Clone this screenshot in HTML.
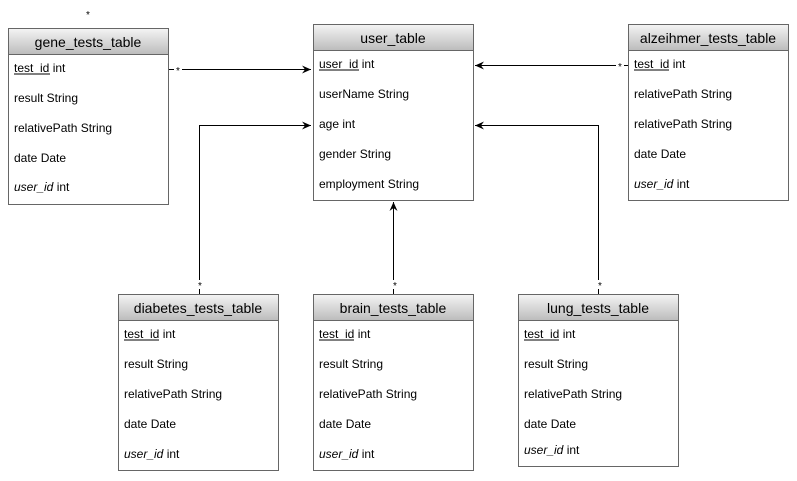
<!DOCTYPE html>
<html><head><meta charset="utf-8"><style>
html,body{margin:0;padding:0;background:#fff;}
svg{display:block;font-family:"Liberation Sans",Arial,sans-serif;}
.t{font-size:14px;fill:#000;text-anchor:middle;}
.r{font-size:12px;fill:#000;}
.i{font-style:italic;}
.s{font-size:10px;fill:#000;}
</style></head><body>
<svg width="797" height="481" viewBox="0 0 797 481" xmlns="http://www.w3.org/2000/svg">
<defs>
<linearGradient id="g" x1="0" y1="0" x2="0" y2="1">
<stop offset="0" stop-color="#f4f4f4"/><stop offset="1" stop-color="#bcbcbc"/>
</linearGradient>
<marker id="a" markerWidth="10" markerHeight="10" refX="9" refY="5" orient="auto" markerUnits="userSpaceOnUse">
<path d="M0,1 L9,5 L0,9 L3,5 Z" fill="#000"/>
</marker>
</defs>
<g stroke="#000" stroke-width="1" fill="none">
<path d="M168.5,69.5 H174 M182,69.5 H311" marker-end="url(#a)"/>
<path d="M199.5,294 V289 M199.5,280 V125.5 H311" marker-end="url(#a)"/>
<path d="M393.5,294 V289 M393.5,280 V202" marker-end="url(#a)"/>
<path d="M598.5,294 V289 M598.5,280 V125.5 H475" marker-end="url(#a)"/>
<path d="M628,65.5 H624 M616,65.5 H475" marker-end="url(#a)"/>
</g>
<text class="s" x="88" y="18" text-anchor="middle">*</text>
<text class="s" x="178" y="74" text-anchor="middle">*</text>
<text class="s" x="620" y="70" text-anchor="middle">*</text>
<text class="s" x="200" y="289" text-anchor="middle">*</text>
<text class="s" x="395" y="289" text-anchor="middle">*</text>
<text class="s" x="600" y="289" text-anchor="middle">*</text>

<g>
<rect x="8.5" y="28.5" width="160" height="176" fill="#fff" stroke="#666"/>
<rect x="8.5" y="28.5" width="160" height="26" fill="url(#g)" stroke="#666"/>
<text class="t" x="88" y="47">gene_tests_table</text>
<text class="r" x="14" y="72">test_id int</text>
<line x1="14" y1="74" x2="50" y2="74" stroke="#000"/>
<text class="r" x="14" y="102">result String</text>
<text class="r" x="14" y="132">relativePath String</text>
<text class="r" x="14" y="162">date Date</text>
<text class="r" x="14" y="191"><tspan class="i">user_id</tspan> int</text>
</g>
<g>
<rect x="313.5" y="24.5" width="160" height="176" fill="#fff" stroke="#666"/>
<rect x="313.5" y="24.5" width="160" height="26" fill="url(#g)" stroke="#666"/>
<text class="t" x="393" y="43">user_table</text>
<text class="r" x="319" y="68">user_id int</text>
<line x1="319" y1="70" x2="359" y2="70" stroke="#000"/>
<text class="r" x="319" y="98">userName String</text>
<text class="r" x="319" y="128">age int</text>
<text class="r" x="319" y="158">gender String</text>
<text class="r" x="319" y="188">employment String</text>
</g>
<g>
<rect x="628.5" y="24.5" width="160" height="176" fill="#fff" stroke="#666"/>
<rect x="628.5" y="24.5" width="160" height="26" fill="url(#g)" stroke="#666"/>
<text class="t" x="708" y="43">alzeihmer_tests_table</text>
<text class="r" x="634" y="68">test_id int</text>
<line x1="634" y1="70" x2="669" y2="70" stroke="#000"/>
<text class="r" x="634" y="98">relativePath String</text>
<text class="r" x="634" y="128">relativePath String</text>
<text class="r" x="634" y="158">date Date</text>
<text class="r" x="634" y="188"><tspan class="i">user_id</tspan> int</text>
</g>
<g>
<rect x="118.5" y="294.5" width="160" height="176" fill="#fff" stroke="#666"/>
<rect x="118.5" y="294.5" width="160" height="26" fill="url(#g)" stroke="#666"/>
<text class="t" x="198" y="313">diabetes_tests_table</text>
<text class="r" x="124" y="338">test_id int</text>
<line x1="124" y1="340" x2="159" y2="340" stroke="#000"/>
<text class="r" x="124" y="368">result String</text>
<text class="r" x="124" y="398">relativePath String</text>
<text class="r" x="124" y="428">date Date</text>
<text class="r" x="124" y="458"><tspan class="i">user_id</tspan> int</text>
</g>
<g>
<rect x="313.5" y="294.5" width="160" height="176" fill="#fff" stroke="#666"/>
<rect x="313.5" y="294.5" width="160" height="26" fill="url(#g)" stroke="#666"/>
<text class="t" x="393" y="313">brain_tests_table</text>
<text class="r" x="319" y="338">test_id int</text>
<line x1="319" y1="340" x2="354" y2="340" stroke="#000"/>
<text class="r" x="319" y="368">result String</text>
<text class="r" x="319" y="398">relativePath String</text>
<text class="r" x="319" y="428">date Date</text>
<text class="r" x="319" y="458"><tspan class="i">user_id</tspan> int</text>
</g>
<g>
<rect x="518.5" y="294.5" width="160" height="172" fill="#fff" stroke="#666"/>
<rect x="518.5" y="294.5" width="160" height="26" fill="url(#g)" stroke="#666"/>
<text class="t" x="598" y="313">lung_tests_table</text>
<text class="r" x="524" y="338">test_id int</text>
<line x1="524" y1="340" x2="559" y2="340" stroke="#000"/>
<text class="r" x="524" y="368">result String</text>
<text class="r" x="524" y="398">relativePath String</text>
<text class="r" x="524" y="428">date Date</text>
<text class="r" x="524" y="454"><tspan class="i">user_id</tspan> int</text>
</g>
</svg>
</body></html>
